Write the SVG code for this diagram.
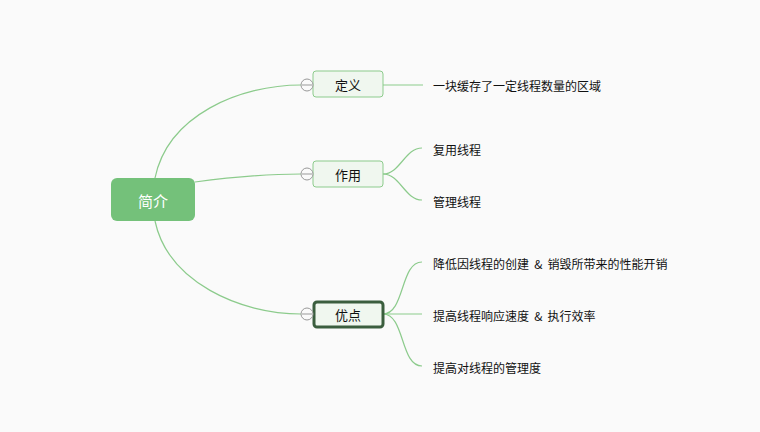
<svg xmlns="http://www.w3.org/2000/svg" width="760" height="432" viewBox="0 0 760 432">
<style>
.bg{fill:#fafafa}
.conn{fill:none;stroke:#8ccb8c;stroke-width:1.2}
.sub rect{fill:#f0f7ef;stroke:#8ccb8c;stroke-width:1}
.t{font-family:"Noto Sans CJK SC","Noto Sans",sans-serif;font-size:13px;fill:#111;text-anchor:middle;dominant-baseline:central}
.leaf{font-family:"Noto Sans CJK SC","Noto Sans",sans-serif;font-size:12px;fill:#111;dominant-baseline:central}
.amp{word-spacing:2.5px}
.fold circle{fill:#fafafa;stroke:#999;stroke-width:1}
.fold line{stroke:#999;stroke-width:1}
</style>
<rect class="bg" width="760" height="432"/>
<g id="connectors">
<path class="conn" d="M155,178 C168,115 240,85 301,85"/>
<path class="conn" d="M195,182 C240,176 270,174 301,174"/>
<path class="conn" d="M155,221 C168,282 240,314 301,314"/>
<path class="conn" d="M383,85 L423,85"/>
<path class="conn" d="M383,174 C400,174 405,148 422,148"/>
<path class="conn" d="M383,174 C400,174 405,200 422,200"/>
<path class="conn" d="M383,314 C405,314 400,262 422,262"/>
<path class="conn" d="M383,314 L422,314"/>
<path class="conn" d="M383,314 C405,314 400,366 422,366"/>
</g>
<g id="root">
<rect x="111" y="178" width="84" height="43" rx="6" fill="#74c17a"/>
<text x="153" y="200" class="t" style="fill:#fff;font-size:15px">简介</text>
</g>
<g id="n-def" class="sub">
<rect x="313" y="71" width="70" height="26" rx="3"/>
<text x="348" y="84.5" class="t">定义</text>
<g class="fold"><circle cx="307" cy="85" r="6"/><line x1="302" y1="85" x2="312" y2="85"/></g>
</g>
<g id="n-use" class="sub">
<rect x="313" y="161" width="70" height="26" rx="3"/>
<text x="348" y="174.5" class="t">作用</text>
<g class="fold"><circle cx="307" cy="174" r="6"/><line x1="302" y1="174" x2="312" y2="174"/></g>
</g>
<g id="n-adv" class="sub">
<rect x="314" y="302" width="69" height="25" rx="3" style="stroke:#3b5e3e;stroke-width:3"/>
<text x="348" y="314.5" class="t">优点</text>
<g class="fold"><circle cx="307" cy="314" r="6"/><line x1="302" y1="314" x2="312" y2="314"/></g>
</g>
<g id="l-def"><text x="433" y="85" class="leaf">一块缓存了一定线程数量的区域</text></g>
<g id="l-use1"><text x="433" y="149" class="leaf">复用线程</text></g>
<g id="l-use2"><text x="433" y="201" class="leaf">管理线程</text></g>
<g id="l-adv1"><text x="433" y="263" class="leaf amp">降低因线程的创建 &amp; 销毁所带来的性能开销</text></g>
<g id="l-adv2"><text x="433" y="315" class="leaf amp">提高线程响应速度 &amp; 执行效率</text></g>
<g id="l-adv3"><text x="433" y="367" class="leaf">提高对线程的管理度</text></g>
</svg>
